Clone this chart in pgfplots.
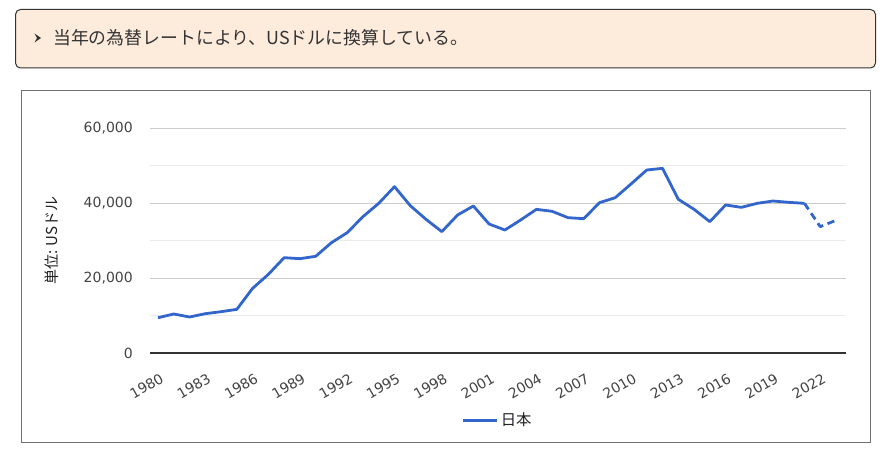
\documentclass[border=0pt]{standalone}
\usepackage{fontspec}
\setmainfont{DejaVu Sans}
\newfontfamily\jp{Noto Sans CJK JP}
\usepackage{pgfplots}
\pgfplotsset{compat=1.18}
\definecolor{jline}{HTML}{3366CC}
\definecolor{boxfill}{HTML}{FDEBDC}
\definecolor{boxdraw}{HTML}{333333}
\definecolor{framedraw}{HTML}{707070}
\definecolor{majgrid}{HTML}{CCCCCC}
\definecolor{mingrid}{HTML}{EBEBEB}
\definecolor{ticktext}{HTML}{444444}
\definecolor{labtext}{HTML}{222222}

\pgfplotstableread{
year value
1980 9410
1981 10400
1982 9600
1983 10480
1984 11020
1985 11640
1986 17240
1987 20970
1988 25420
1989 25150
1990 25780
1991 29420
1992 32090
1993 36360
1994 39910
1995 44360
1996 39290
1997 35640
1998 32360
1999 36800
2000 39200
2001 34400
2002 32800
2003 35470
2004 38310
2005 37780
2006 36090
2007 35820
2008 40090
2009 41420
2010 45070
2011 48800
2012 49240
2013 40980
2014 38310
2015 35020
2016 39470
2017 38840
2018 39910
2019 40530
2020 40180
2021 39910
}\actual

\pgfplotstableread{
year value
2021 39910
2022 33690
2023 35380
}\estimate

\begin{document}
\begin{tikzpicture}
\useasboundingbox (0,0) rectangle (664.5pt,338.25pt);
\begin{scope}[x=0.75pt,y=-0.75pt,yshift=338.25pt]
  \fill[white] (0,0) rectangle (886,451);
  \draw[draw=boxdraw, fill=boxfill, rounded corners=3.75pt, line width=0.75pt] (15.5,9.5) rectangle (875.5,68);
  \fill[boxdraw] (34.5,33.5) -- (41,38) -- (34.5,42.5) -- (37,38) -- cycle;
  \node[anchor=west, inner sep=0pt, font=\jp\fontsize{13.4pt}{15pt}\selectfont, text=boxdraw] at (53,38) {当年の為替レートにより、USドルに換算している。};
  \draw[draw=framedraw, line width=0.75pt] (21,90.5) rectangle (870.5,442.5);
\end{scope}
\begin{axis}[
  at={(112.5pt,73.5pt)}, anchor=south west,
  scale only axis, width=522pt, height=168.75pt,
  xmin=1979.493, xmax=2023.636, ymin=0, ymax=60000,
  axis x line*=bottom, axis y line*=left,
  y axis line style={draw=none},
  x axis line style={draw=boxdraw, line width=1.1pt, -},
  major tick length=0pt, minor tick length=0pt,
  scaled y ticks=false,
  ytick={0,20000,40000,60000},
  minor ytick={10000,30000,50000},
  ymajorgrids, yminorgrids,
  major grid style={draw=majgrid, line width=0.75pt},
  minor grid style={draw=mingrid, line width=0.75pt},
  xtick={1980,1983,...,2022},
  /pgf/number format/assume math mode=true,
  tick label style={font=\fontsize{10.5pt}{12pt}\selectfont, text=ticktext},
  x tick label style={rotate=30, anchor=north east, inner sep=0pt, xshift=-6.25pt, yshift=-13pt, /pgf/number format/1000 sep={}},
  y tick label style={anchor=east, inner sep=0pt, xshift=-12.75pt, /pgf/number format/1000 sep={,}},
  ylabel={\jp 単位: USドル},
  ylabel style={at={(axis description cs:-0.1408,0.5)}, anchor=center, font=\jp\fontsize{11.3pt}{13pt}\selectfont, text=labtext},
  legend style={at={(axis description cs:0.5,-0.298)}, anchor=center, draw=none, fill=none, font=\jp\fontsize{11.5pt}{13pt}\selectfont, text=labtext},
  legend image code/.code={\draw[#1, line width=2.2pt] (0pt,0pt) -- (25pt,0pt);},
]
\addplot[jline, line width=2.1pt, line join=round] table[x=year, y=value] {\actual};
\addlegendentry{日本}
\addplot[jline, line width=2.1pt, line join=round, dash pattern=on 5.5pt off 3.5pt, forget plot] table[x=year, y=value] {\estimate};
\end{axis}
\end{tikzpicture}
\end{document}
